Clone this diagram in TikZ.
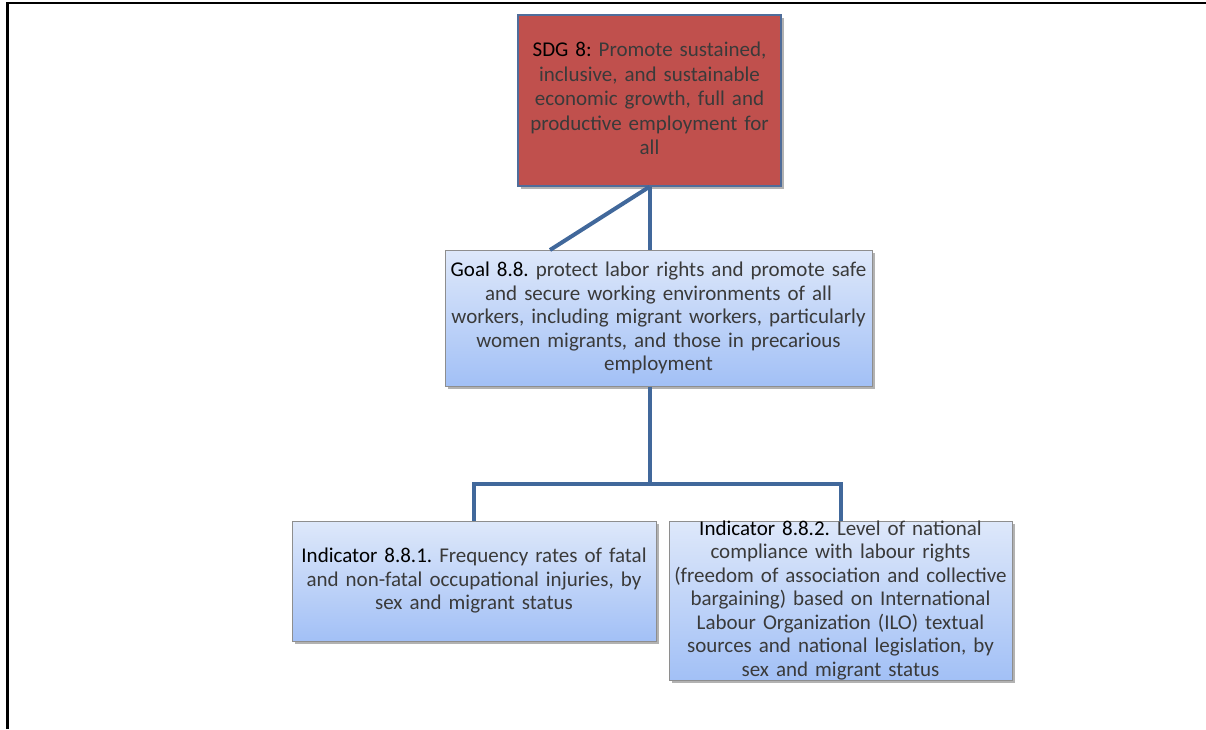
\documentclass[tikz,border=0pt]{standalone}
\usepackage{fontspec}
\setmainfont{Carlito}
\usetikzlibrary{shadows}
\definecolor{sdgred}{HTML}{C0504D}
\definecolor{sdgborder}{HTML}{4F6D9A}
\definecolor{conncol}{HTML}{41689B}
\definecolor{boxtop}{HTML}{DEE8FA}
\definecolor{boxbot}{HTML}{A2C0F6}
\definecolor{boxborder}{HTML}{8E8E8E}
\definecolor{bodytext}{HTML}{3A3A3A}
\begin{document}
\frenchspacing
\begin{tikzpicture}[x=1pt,y=-1pt,
  shadowed/.style={drop shadow={shadow xshift=2.5pt,shadow yshift=-3pt,opacity=0.3,fill=black}},
  bluebox/.style={shadowed,draw=boxborder,line width=1pt,top color=boxtop,bottom color=boxbot,inner sep=0pt},
  redbox/.style={shadowed,draw=sdgborder,line width=1.5pt,fill=sdgred,inner sep=0pt},
  txt/.style={align=center,text width=480pt,inner sep=0pt,text=bodytext,font=\fontsize{21}{23.5}\selectfont},
  conn/.style={draw=conncol,line width=4pt}]
\useasboundingbox (0,0) rectangle (1206,729);
\draw[line width=2.5pt] (7.5,729) -- (7.5,3) -- (1206,3);

\node[redbox,minimum width=263pt,minimum height=171pt] (sdg) at (649.5,100.5) {};
\node[bluebox,minimum width=427pt,minimum height=136pt] (goal) at (658.5,318) {};
\node[bluebox,minimum width=364pt,minimum height=120pt] (ind1) at (474,581) {};
\node[bluebox,minimum width=343pt,minimum height=159pt] (ind2) at (840.5,600.5) {};

\node[txt,font=\fontsize{21}{24.5}\selectfont] (sdgt) at ([yshift=2pt]sdg.center) {{\color{black}SDG 8:} Promote sustained,\\ inclusive, and sustainable\\ economic growth, full and\\ productive employment for\\ all};
\node[txt] (goalt) at (goal.center) {{\color{black}Goal 8.8.} protect labor rights and promote safe\\ and secure working environments of all\\ workers, including migrant workers, particularly\\ women migrants, and those in precarious\\ employment};
\node[txt] (ind1t) at (ind1.center) {{\color{black}Indicator 8.8.1.} Frequency rates of fatal\\ and non-fatal occupational injuries, by\\ sex and migrant status};
\node[txt] (ind2t) at (ind2.center) {{\color{black}Indicator 8.8.2.} Level of national\\ compliance with labour rights\\ (freedom of association and collective\\ bargaining) based on International\\ Labour Organization (ILO) textual\\ sources and national legislation, by\\ sex and migrant status};

\coordinate (dg) at (550,250);
\coordinate (jn) at (649.5,484);
\draw[conn] (sdg.south) -- (dg);
\draw[conn] (sdg.south) -- (sdg.south |- goal.north);
\draw[conn] (sdg.south |- goal.south) -- (jn);
\draw[conn] (ind1.north) |- (jn) -| (ind2.north);
\end{tikzpicture}
\end{document}
